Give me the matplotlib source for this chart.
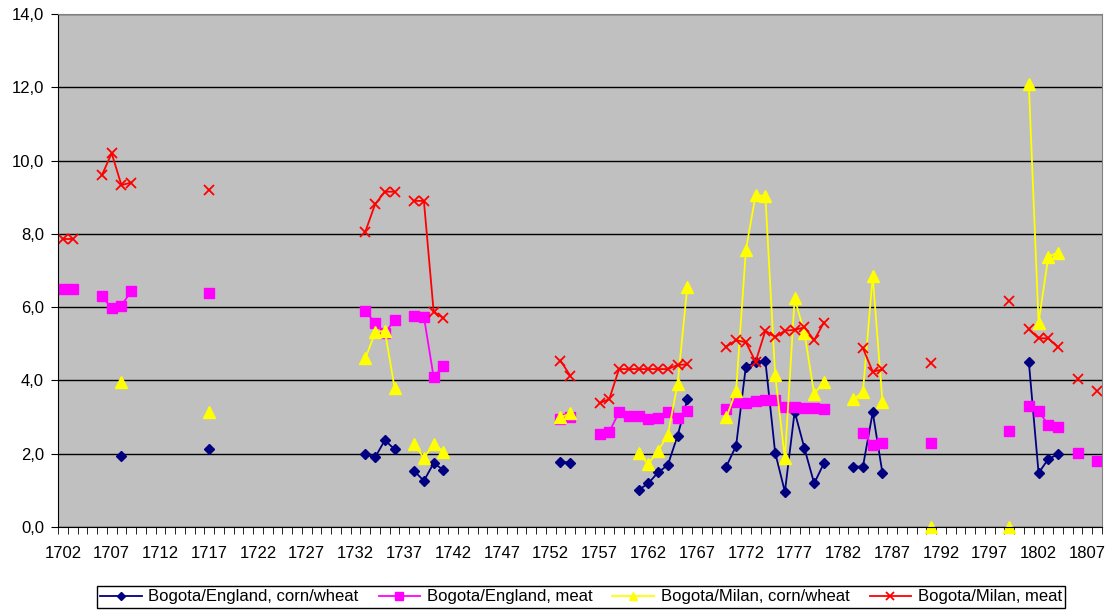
import matplotlib
matplotlib.use('Agg')
import matplotlib.pyplot as plt
import numpy as np

plt.rcParams['font.family'] = ['Liberation Sans', 'DejaVu Sans']

# category axis: one slot per year
years = list(range(1702, 1809))

be_corn_years = [1708, 1717, 1733, 1734, 1735, 1736, 1738, 1739, 1740, 1741, 1753, 1754,
                 1761, 1762, 1763, 1764, 1765, 1766,
                 1770, 1771, 1772, 1773, 1774, 1775, 1776, 1777, 1778, 1779, 1780,
                 1783, 1784, 1785, 1786, 1801, 1802, 1803, 1804]
be_corn_vals = [1.94, 2.12, 1.98, 1.90, 2.37, 2.12, 1.53, 1.26, 1.74, 1.56, 1.78, 1.76,
                1.01, 1.19, 1.49, 1.69, 2.49, 3.48,
                1.65, 2.22, 4.38, 4.49, 4.53, 2.03, 0.96, 3.15, 2.15, 1.19, 1.74,
                1.65, 1.65, 3.13, 1.47, 4.51, 1.47, 1.86, 1.98]

be_meat_years = [1702, 1703, 1706, 1707, 1708, 1709, 1717, 1733, 1734, 1735, 1736, 1738,
                 1739, 1740, 1741, 1753, 1754,
                 1757, 1758, 1759, 1760, 1761, 1762, 1763, 1764, 1765, 1766,
                 1770, 1771, 1772, 1773, 1774, 1775, 1776, 1777, 1778, 1779, 1780,
                 1784, 1785, 1786, 1791, 1799, 1801, 1802, 1803, 1804, 1806, 1808]
be_meat_vals = [6.49, 6.49, 6.30, 5.97, 6.04, 6.44, 6.39, 5.90, 5.56, 5.29, 5.65, 5.77,
                5.74, 4.09, 4.39, 2.94, 3.01,
                2.54, 2.60, 3.13, 3.03, 3.03, 2.94, 2.97, 3.13, 2.97, 3.17,
                3.22, 3.42, 3.39, 3.45, 3.47, 3.47, 3.28, 3.28, 3.26, 3.24, 3.21,
                2.57, 2.24, 2.28, 2.30, 2.63, 3.30, 3.17, 2.78, 2.74, 2.03, 1.80]

bm_corn_years = [1708, 1717, 1733, 1734, 1735, 1736, 1738, 1739, 1740, 1741, 1753, 1754,
                 1761, 1762, 1763, 1764, 1765, 1766,
                 1770, 1771, 1772, 1773, 1774, 1775, 1776, 1777, 1778, 1779, 1780,
                 1783, 1784, 1785, 1786, 1791, 1799, 1801, 1802, 1803, 1804]
bm_corn_vals = [3.97, 3.15, 4.60, 5.31, 5.36, 3.79, 2.27, 1.88, 2.27, 2.06, 2.99, 3.10,
                2.01, 1.72, 2.08, 2.51, 3.90, 6.56,
                2.99, 3.72, 7.56, 9.06, 9.03, 4.15, 1.87, 6.24, 5.30, 3.63, 3.97,
                3.48, 3.69, 6.85, 3.42, 0.0, 0.0, 12.09, 5.58, 7.38, 7.49]

bm_meat_years = [1702, 1703, 1706, 1707, 1708, 1709, 1717, 1733, 1734, 1735, 1736, 1738,
                 1739, 1740, 1741, 1753, 1754,
                 1757, 1758, 1759, 1760, 1761, 1762, 1763, 1764, 1765, 1766,
                 1770, 1771, 1772, 1773, 1774, 1775, 1776, 1777, 1778, 1779, 1780,
                 1784, 1785, 1786, 1791, 1799, 1801, 1802, 1803, 1804, 1806, 1808]
bm_meat_vals = [7.86, 7.86, 9.60, 10.20, 9.33, 9.40, 9.21, 8.06, 8.81, 9.15, 9.15, 8.90,
                8.90, 5.88, 5.70, 4.54, 4.13,
                3.38, 3.49, 4.31, 4.31, 4.31, 4.31, 4.31, 4.31, 4.42, 4.44,
                4.92, 5.10, 5.04, 4.51, 5.36, 5.18, 5.36, 5.38, 5.45, 5.10, 5.58,
                4.88, 4.24, 4.30, 4.48, 6.18, 5.39, 5.15, 5.15, 4.90, 4.04, 3.72]

labels = ['Bogota/England, corn/wheat', 'Bogota/England, meat',
          'Bogota/Milan, corn/wheat', 'Bogota/Milan, meat']


def full_series(yrs, vals):
    # put values into the full year grid, gaps stay NaN so lines break there
    s = np.full(len(years), np.nan)
    for y, v in zip(yrs, vals):
        s[years.index(y)] = v
    return s


x = np.arange(len(years))

fig = plt.figure(figsize=(11.12, 6.10), dpi=100)
ax = fig.add_axes([58 / 1112, 1 - 527 / 610, (1102 - 58) / 1112, (527 - 14) / 610])
ax.set_facecolor('#C0C0C0')

ax.plot(x, full_series(be_corn_years, be_corn_vals), color='#000080', lw=1.3,
        marker='D', ms=5, label=labels[0])
ax.plot(x, full_series(be_meat_years, be_meat_vals), color='#FF00FF', lw=1.3,
        marker='s', ms=7, label=labels[1])
ax.plot(x, full_series(bm_corn_years, bm_corn_vals), color='#FFFF00', lw=1.3,
        marker='^', ms=8, label=labels[2], clip_on=False)
ax.plot(x, full_series(bm_meat_years, bm_meat_vals), color='#FF0000', lw=1.3,
        marker='x', ms=7, mew=1.3, label=labels[3])

ax.set_xlim(-0.5, len(years) - 0.5)
ax.set_ylim(0, 14)

yt = np.arange(0, 15, 2)
ax.set_yticks(yt)
ax.set_yticklabels([f'{v:.1f}'.replace('.', ',') for v in yt], fontsize=12)
ax.yaxis.grid(True, color='black', lw=1)
ax.set_axisbelow(True)

ax.set_xticks(x[::5])
ax.set_xticklabels([str(years[i]) for i in x[::5]], fontsize=12)
ax.set_xticks(np.arange(-0.5, len(years)), minor=True)
ax.tick_params(axis='x', which='major', length=0, pad=14)
ax.tick_params(axis='x', which='minor', length=5, direction='out', color='black')
ax.tick_params(axis='y', length=5, direction='out', color='black', pad=5)

for side in ['top', 'right']:
    ax.spines[side].set_color('#808080')
for side in ['left', 'bottom']:
    ax.spines[side].set_color('black')

fig.legend(loc='center', bbox_to_anchor=(581 / 1112, 1 - 597 / 610), ncol=4,
           fontsize=12, numpoints=1, frameon=True, fancybox=False, edgecolor='black',
           framealpha=1, borderpad=0.2, handlelength=2.5, handletextpad=0.4,
           columnspacing=1.2, borderaxespad=0, markerscale=0.8)

plt.savefig('out.png', dpi=100)
